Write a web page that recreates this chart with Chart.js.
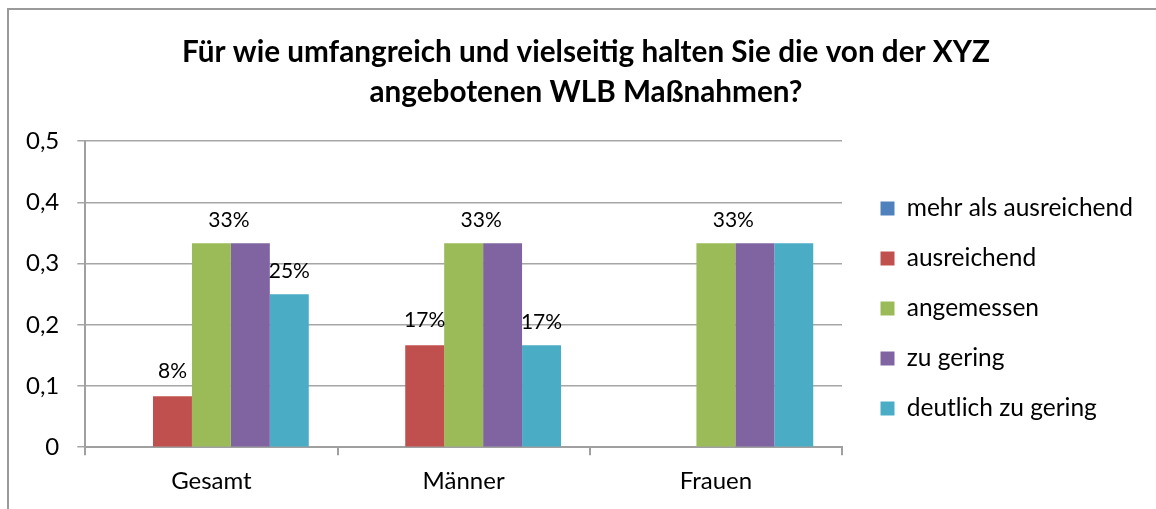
<!DOCTYPE html>
<html>
<head>
<meta charset="utf-8">
<script src="https://cdn.jsdelivr.net/npm/chart.js@4"></script>
<style>
  html, body { margin: 0; padding: 0; background: #fff; }
  #frame { position: absolute; left: 7px; top: 8px; width: 1200px; height: 600px;
           border-left: 2px solid #9a9a9a; border-top: 2px solid #9a9a9a; }
  #wrap { position: absolute; left: 0; top: 0; width: 1156px; height: 509px; }
</style>
</head>
<body>
<div id="frame"></div>
<div id="wrap"><canvas id="myChart"></canvas></div>
<script>
// categories and series
const kategorien = ['Gesamt', 'Männer', 'Frauen'];
const mehrAlsAusreichend = [0, 0, 0];
const ausreichend = [0.0833, 0.1667, 0];
const angemessen = [0.3333, 0.3333, 0.3333];
const zuGering = [0.3333, 0.3333, 0.3333];
const deutlichZuGering = [0.25, 0.1667, 0.3333];
// which data labels are visible in the original
const labelAusreichend = [true, true, false];
const labelAngemessen = [true, true, true];
const labelDeutlich = [true, true, false];
const yTicks = [0, 0.1, 0.2, 0.3, 0.4, 0.5];

const schrift = 'Lato, "Open Sans", sans-serif';

// draws the % labels above the bars (the 33% one sits between green and purple)
const labelPlugin = {
    id: 'labelPlugin',
    afterDatasetsDraw(chart) {
        const ctx = chart.ctx;
        ctx.save();
        ctx.font = '21px ' + schrift;
        ctx.fillStyle = '#000';
        ctx.textAlign = 'center';
        ctx.textBaseline = 'middle';
        const pct = v => Math.round(v * 100) + '%';
        const red = chart.getDatasetMeta(1).data;
        const green = chart.getDatasetMeta(2).data;
        const purple = chart.getDatasetMeta(3).data;
        const cyan = chart.getDatasetMeta(4).data;
        for (let i = 0; i < kategorien.length; i++) {
            if (labelAusreichend[i]) ctx.fillText(pct(ausreichend[i]), red[i].x, red[i].y - 25);
            if (labelAngemessen[i]) ctx.fillText(pct(angemessen[i]), (green[i].x + purple[i].x) / 2 - 2, green[i].y - 23);
            if (labelDeutlich[i]) ctx.fillText(pct(deutlichZuGering[i]), cyan[i].x, cyan[i].y - 23);
        }
        ctx.restore();
    }
};

// small gap between plot area and legend, title centred on the whole frame
const layoutTweak = {
    id: 'layoutTweak',
    afterLayout(chart) {
        if (chart.legend) {
            chart.legend.left += 13;
            chart.legend.right += 13;
        }
        if (chart.titleBlock) {
            chart.titleBlock.left += 22;
            chart.titleBlock.right += 22;
        }
    }
};

const data = {
    labels: kategorien,
    datasets: [
        { label: 'mehr als ausreichend', data: mehrAlsAusreichend, backgroundColor: '#4F81BD' },
        { label: 'ausreichend', data: ausreichend, backgroundColor: '#C0504D' },
        { label: 'angemessen', data: angemessen, backgroundColor: '#9BBB59' },
        { label: 'zu gering', data: zuGering, backgroundColor: '#8064A2' },
        { label: 'deutlich zu gering', data: deutlichZuGering, backgroundColor: '#4BACC6' }
    ]
};

const config = {
    type: 'bar',
    data: data,
    plugins: [labelPlugin, layoutTweak],
    options: {
        responsive: false,
        animation: false,
        layout: { padding: { left: 8, right: 36, top: 0, bottom: 1 } },
        datasets: { bar: { categoryPercentage: 0.772, barPercentage: 1.0 } },
        scales: {
            x: {
                grid: { drawOnChartArea: false, drawTicks: true, tickLength: 8, color: '#a0a0a0', lineWidth: 2 },
                border: { color: '#a0a0a0', width: 2 },
                ticks: { color: '#000', font: { family: schrift, size: 24 }, padding: 12 }
            },
            y: {
                min: 0,
                max: 0.5,
                afterBuildTicks: axis => { axis.ticks = yTicks.map(v => ({ value: v })); },
                grid: { color: '#a6a6a6', lineWidth: 1.5, tickLength: 8 },
                border: { color: '#a0a0a0', width: 2 },
                ticks: {
                    color: '#000',
                    font: { family: schrift, size: 24 },
                    padding: 18,
                    callback: v => v === 0 ? '0' : v.toFixed(1).replace('.', ',')
                }
            }
        },
        plugins: {
            title: {
                display: true,
                text: ['Für wie umfangreich und vielseitig halten Sie die von der XYZ', 'angebotenen WLB Maßnahmen?'],
                color: '#000',
                font: { family: schrift, size: 29.7, weight: 'bold', lineHeight: 1.35 },
                padding: { top: 32, bottom: 29 }
            },
            legend: {
                position: 'right',
                title: { display: true, text: '', font: { size: 10, lineHeight: 1 }, padding: { top: 99, bottom: 0 } },
                labels: {
                    color: '#000',
                    font: { family: schrift, size: 24.5 },
                    boxWidth: 14,
                    boxHeight: 14,
                    padding: 25.5
                }
            },
            tooltip: { enabled: false }
        }
    }
};

const canvas = document.getElementById('myChart');
canvas.width = 1156;
canvas.height = 509;
new Chart(canvas, config);
</script>
</body>
</html>
